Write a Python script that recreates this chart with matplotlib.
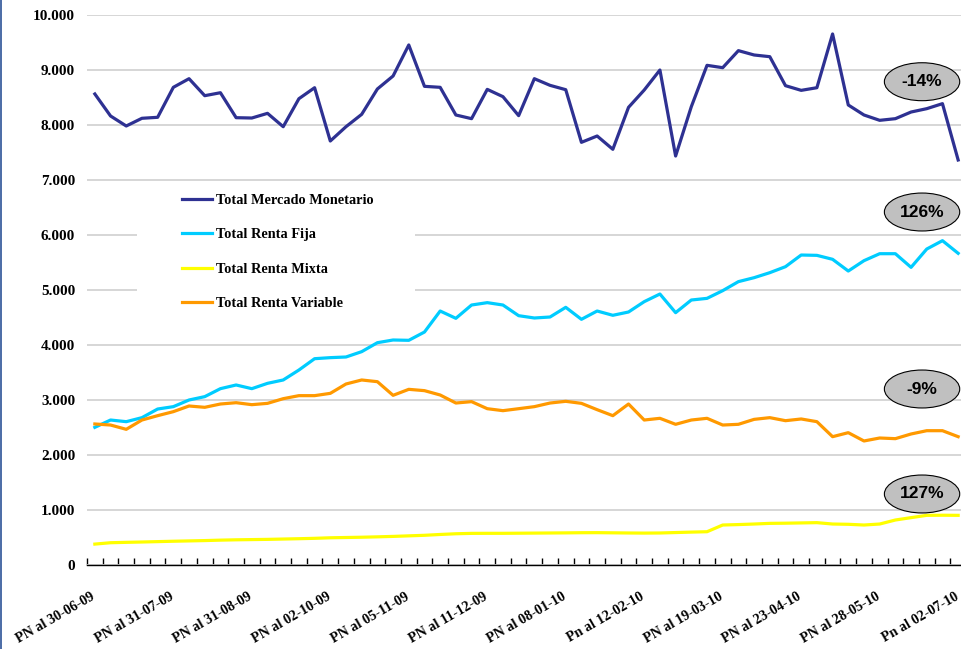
import matplotlib
matplotlib.use("Agg")
import matplotlib.pyplot as plt
import matplotlib.transforms as mtransforms
from matplotlib.patches import Ellipse, Rectangle

# weekly dates (56 points), only every 5th one is labelled
date_labels = ["PN al 30-06-09", "PN al 31-07-09", "PN al 31-08-09", "PN al 02-10-09",
               "PN al 05-11-09", "PN al 11-12-09", "PN al 08-01-10", "Pn al 12-02-10",
               "PN al 19-03-10", "PN al 23-04-10", "PN al 28-05-10", "Pn al 02-07-10"]
label_every = 5

monetario = [8564, 8164, 7982, 8122, 8140, 8685, 8842, 8533, 8587, 8133,
             8127, 8212, 7969, 8478, 8678, 7709, 7969, 8194, 8655, 8891,
             9455, 8703, 8685, 8182, 8115, 8648, 8515, 8170, 8842, 8721,
             8642, 7685, 7800, 7558, 8321, 8636, 9000, 7436, 8333, 9085,
             9042, 9352, 9273, 9242, 8715, 8630, 8678, 9655, 8364, 8182,
             8085, 8115, 8236, 8297, 8388, 7364]

renta_fija = [2503, 2636, 2606, 2679, 2836, 2879, 3000, 3061, 3206, 3273,
              3206, 3303, 3364, 3545, 3751, 3770, 3782, 3879, 4042, 4091,
              4085, 4236, 4618, 4485, 4727, 4770, 4727, 4533, 4491, 4509,
              4685, 4467, 4618, 4540, 4600, 4788, 4927, 4588, 4818, 4848,
              4988, 5152, 5224, 5315, 5424, 5636, 5630, 5558, 5345, 5533,
              5660, 5660, 5412, 5745, 5897, 5667]

renta_mixta = [380, 405, 412, 418, 425, 432, 438, 444, 452, 458,
               462, 466, 472, 478, 485, 495, 500, 505, 512, 520,
               530, 540, 555, 568, 575, 576, 576, 578, 580, 582,
               584, 587, 588, 585, 582, 580, 582, 590, 598, 605,
               727, 735, 745, 757, 760, 765, 770, 745, 740, 727,
               745, 818, 861, 903, 905, 903]

renta_variable = [2564, 2545, 2467, 2636, 2715, 2788, 2891, 2867, 2927, 2951,
                  2915, 2939, 3024, 3079, 3079, 3121, 3291, 3364, 3333, 3085,
                  3194, 3170, 3091, 2945, 2970, 2842, 2806, 2842, 2879, 2945,
                  2976, 2939, 2824, 2715, 2927, 2636, 2667, 2558, 2636, 2667,
                  2545, 2558, 2648, 2679, 2624, 2655, 2606, 2333, 2406, 2255,
                  2309, 2297, 2382, 2442, 2442, 2333]

# variation bubbles: text and the value they sit at
bubble_text = ["-14%", "126%", "-9%", "127%"]
bubble_values = [8787, 6418, 3200, 1291]

serif = "Liberation Serif"
sans = "Liberation Sans"

fig = plt.figure(figsize=(9.62, 6.49), dpi=100)
ax = fig.add_axes([87 / 962, 84 / 649, 879 / 962, 550 / 649])

x = list(range(len(monetario)))
ax.plot(x, monetario, color="#2E3192", lw=2.3, label="Total Mercado Monetario", zorder=3)
ax.plot(x, renta_fija, color="#00CCFF", lw=2.3, label="Total Renta Fija", zorder=3)
ax.plot(x, renta_mixta, color="#FFFF00", lw=2.3, label="Total Renta Mixta", zorder=3)
ax.plot(x, renta_variable, color="#FF9900", lw=2.3, label="Total Renta Variable", zorder=3)

ax.set_xlim(-0.5, len(x) - 0.5)
ax.set_ylim(0, 10000)

yt = list(range(0, 10001, 1000))
ax.set_yticks(yt)
ax.set_yticklabels([f"{v:,}".replace(",", ".") for v in yt],
                   fontfamily=serif, fontweight="bold", fontsize=11)
ax.tick_params(axis="y", length=0, pad=8.5)
ax.yaxis.grid(True, color="#D3D3D3", lw=1.3)
ax.set_axisbelow(True)

for s in ["top", "right", "left"]:
    ax.spines[s].set_visible(False)
ax.spines["bottom"].set_color("black")
ax.spines["bottom"].set_linewidth(1.0)

# category boundaries as ticks, labels on every 5th category
ax.set_xticks([i - 0.5 for i in range(len(x) + 1)])
ax.set_xticklabels([])
ax.tick_params(axis="x", which="major", direction="in", length=5, width=1, color="black")
ax.set_xticks(x[::label_every], minor=True)
ax.set_xticklabels(date_labels, minor=True, rotation=30, ha="right", va="top",
                   rotation_mode="anchor", fontfamily=serif, fontweight="bold", fontsize=10.2)
ax.tick_params(axis="x", which="minor", length=0, pad=18)
shift = mtransforms.ScaledTranslation(-4 / 100, 0, fig.dpi_scale_trans)
for lab in ax.get_xticklabels(minor=True):
    lab.set_transform(lab.get_transform() + shift)

# white area behind the legend hides the grid
ax.add_patch(Rectangle((137 / 962, 1 - 320 / 649), (415 - 137) / 962, (320 - 185) / 649,
                       transform=fig.transFigure, facecolor="white", edgecolor="none", zorder=1))
leg = ax.legend(loc="upper left", bbox_to_anchor=(182 / 962, 1 - 194 / 649),
                bbox_transform=fig.transFigure, frameon=False, borderpad=0, borderaxespad=0,
                handlelength=2.1, handletextpad=0.3, labelspacing=1.5,
                prop={"family": serif, "weight": "bold", "size": 10.3})

# percentage bubbles on the right
bx = 52.7
for txt, yv in zip(bubble_text, bubble_values):
    ax.add_patch(Ellipse((bx, yv), width=4.8, height=690, facecolor="#C0C0C0",
                         edgecolor="black", lw=0.8, zorder=5, clip_on=False))
    ax.text(bx, yv, txt, ha="center", va="center", fontfamily=sans,
            fontweight="bold", fontsize=12.5, zorder=6)

# blue frame line on the left edge
fig.patches.append(Rectangle((0, 0), 2 / 962, 1, transform=fig.transFigure,
                             facecolor="#4F6FA8", edgecolor="none"))

fig.savefig("out.png", dpi=100)
